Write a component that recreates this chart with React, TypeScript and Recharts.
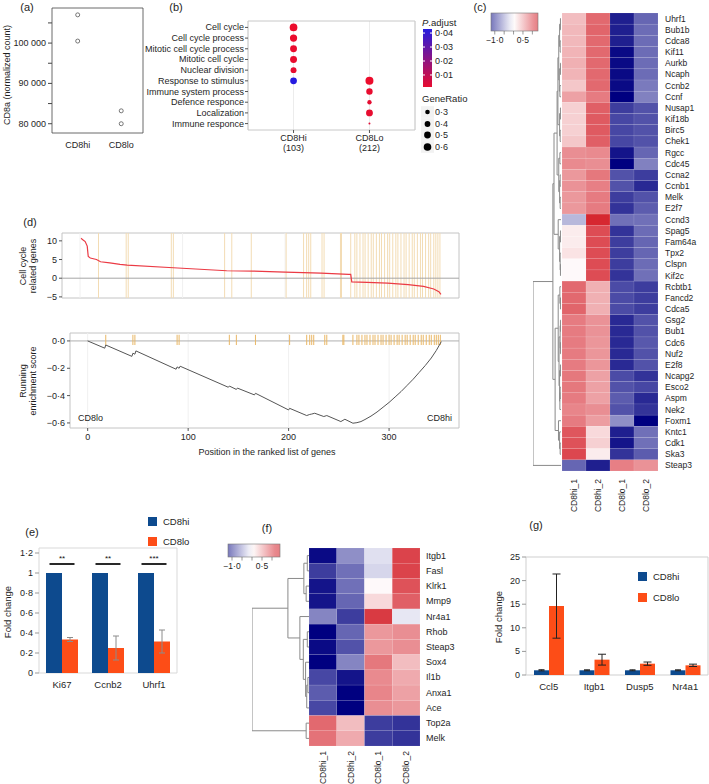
import React from 'react';
import {
  ScatterChart,
  Scatter,
  LineChart,
  Line,
  ComposedChart,
  Bar,
  ErrorBar,
  XAxis,
  YAxis,
  ZAxis,
  Cell,
  CartesianGrid,
  ReferenceLine,
  ReferenceArea,
} from 'recharts';

const FONT = '"Liberation Sans", Arial, Helvetica, sans-serif';
const TXT = '#1e1e1e';
const HI_BLUE = '#0d4a8e';
const LO_ORANGE = '#fd4d17';

// (a) CD8a normalized counts
const aGroups = ['CD8hi', 'CD8lo'];
const aHiCounts = [107000, 100500];
const aLoCounts = [83200, 80000];
const aTicks = [80000, 85000, 90000, 95000, 100000, 105000];
const aLabelled = [80000, 90000, 100000];

// (b) GO enrichment dot plot
const bTerms = [
  'Cell cycle',
  'Cell cycle process',
  'Mitotic cell cycle process',
  'Mitotic cell cycle',
  'Nuclear division',
  'Response to stimulus',
  'Immune system process',
  'Defence responce',
  'Localization',
  'Immune responce',
];
const bClusters = ['CD8Hi', 'CD8Lo'];
const bClusterSizes = [103, 212];
const bHiRatio = [0.64, 0.58, 0.54, 0.54, 0.43, 0.52]; // terms 0-5
const bHiPadj = [0.0005, 0.0007, 0.0009, 0.001, 0.0015, 0.043];
const bLoRatio = [0.68, 0.48, 0.29, 0.53, 0.16]; // terms 5-9
const bLoPadj = [0.0004, 0.0012, 0.002, 0.0015, 0.003];
const bPadjTicks = [0.01, 0.02, 0.03, 0.04];
const bRatioKeys = [0.3, 0.4, 0.5, 0.6];

// (c) cell cycle heatmap
const cCols = ['CD8hi_1', 'CD8hi_2', 'CD8lo_1', 'CD8lo_2'];
const cGenes = [
  'Uhrf1', 'Bub1b', 'Cdca8', 'Kif11', 'Aurkb', 'Ncaph', 'Ccnb2', 'Ccnf',
  'Nusap1', 'Kif18b', 'Birc5', 'Chek1', 'Rgcc', 'Cdc45', 'Ccna2', 'Ccnb1',
  'Melk', 'E2f7', 'Ccnd3', 'Spag5', 'Fam64a', 'Tpx2', 'Clspn', 'Kif2c',
  'Rcbtb1', 'Fancd2', 'Cdca5', 'Gsg2', 'Bub1', 'Cdc6', 'Nuf2', 'E2f8',
  'Ncapg2', 'Esco2', 'Aspm', 'Nek2', 'Foxm1', 'Kntc1', 'Cdk1', 'Ska3', 'Steap3',
];
const cHi1 = [
  0.35, 0.38, 0.38, 0.4, 0.42, 0.4, 0.3, 0.5,
  0.25, 0.25, 0.25, 0.3, 0.6, 0.62, 0.55, 0.58,
  0.55, 0.55, -0.35, 0.1, 0.1, 0.15, 0.03, 0.03,
  0.8, 0.8, 0.82, 0.7, 0.7, 0.7, 0.7, 0.7,
  0.72, 0.72, 0.7, 0.65, 0.7, 0.9, 0.92, 0.98, -0.75,
];
const cHi2 = [
  0.8, 0.82, 0.8, 0.8, 0.8, 0.8, 0.8, 0.7,
  0.85, 0.88, 0.88, 0.85, 0.62, 0.6, 0.72, 0.68,
  0.7, 0.7, 1.15, 0.95, 0.95, 0.95, 0.95, 0.95,
  0.42, 0.42, 0.42, 0.58, 0.58, 0.56, 0.56, 0.56,
  0.5, 0.5, 0.5, 0.6, 0.52, 0.2, 0.25, 0.1, -1.1,
];
const cLo1 = [
  -1.1, -1.1, -1.1, -1.2, -1.2, -1.2, -1.2, -1.25,
  -0.95, -0.9, -0.9, -0.9, -1.15, -1.3, -0.85, -0.85,
  -0.95, -1.0, -0.7, -1.0, -0.95, -0.95, -0.95, -1.0,
  -0.88, -0.88, -0.88, -1.05, -1.05, -1.05, -1.05, -1.05,
  -0.88, -0.85, -0.8, -0.85, -0.55, -1.1, -1.15, -1.0, 0.68,
];
const cLo2 = [
  -0.75, -0.72, -0.72, -0.72, -0.72, -0.72, -0.65, -0.62,
  -0.85, -0.85, -0.85, -0.85, -0.75, -0.62, -0.95, -1.05,
  -0.85, -0.8, -0.7, -0.72, -0.75, -0.75, -0.72, -0.7,
  -0.95, -0.95, -0.95, -0.85, -0.85, -0.82, -0.85, -0.85,
  -1.0, -0.9, -1.05, -1.0, -1.35, -0.7, -0.7, -0.8, 0.58,
];
// dendrogram: leaf = row index, node = [left, right, height]
const cTree: any = [
  [
    [
      [
        [
          [[[0, 1, 0.02], [2, 3, 0.03], 0.05], [[4, 5, 0.02], [6, 7, 0.04], 0.06], 0.08],
          [[8, 9, 0.02], [10, 11, 0.03], 0.05],
          0.11,
        ],
        [[12, 13, 0.04], [[14, 15, 0.03], [16, 17, 0.03], 0.05], 0.08],
        0.14,
      ],
      [18, [[19, 20, 0.02], [21, [22, 23, 0.02], 0.03], 0.05], 0.1],
      0.25,
    ],
    [
      [
        [24, [25, 26, 0.02], 0.04],
        [[[27, 28, 0.02], [29, 30, 0.02], 0.03], [[31, 32, 0.02], [[33, 34, 0.03], 35, 0.04], 0.05], 0.07],
        0.1,
      ],
      [36, [37, [38, 39, 0.03], 0.05], 0.09],
      0.21,
    ],
    0.29,
  ],
  40,
  1.0,
];

// (d) ranked list / running enrichment
const dRankIdx = [1, 3, 5, 7, 8, 10, 16, 20, 29, 39, 46, 91, 143, 169, 200, 235, 262, 264, 265, 280, 300, 320, 335, 345, 350, 352];
const dRankVal = [10.7, 10.2, 9.8, 8.6, 5.8, 5.4, 5.0, 4.4, 4.1, 3.7, 3.5, 2.8, 2.0, 1.9, 1.6, 1.35, 1.0, 1.0, -1.0, -1.1, -1.3, -1.7, -2.2, -2.9, -3.6, -4.3];
const dEsIdx = [0, 17, 18, 44, 45, 47, 48, 88, 89, 91, 92, 140, 141, 148, 149, 166, 167, 200, 201, 218, 221, 223, 226, 235, 238, 252, 256, 264, 268, 272, 276, 282, 288, 294, 300, 306, 312, 318, 324, 330, 336, 342, 347, 352];
const dEsVal = [0, -0.053, -0.03, -0.113, -0.09, -0.097, -0.073, -0.207, -0.19, -0.2, -0.185, -0.339, -0.33, -0.355, -0.345, -0.395, -0.383, -0.505, -0.493, -0.546, -0.538, -0.535, -0.529, -0.553, -0.546, -0.59, -0.573, -0.602, -0.598, -0.59, -0.575, -0.55, -0.52, -0.485, -0.45, -0.41, -0.37, -0.325, -0.28, -0.23, -0.18, -0.125, -0.07, -0.005];
const dHits = [
  18, 45, 47, 89, 91, 141, 148, 167, 201, 218, 221, 223, 225, 236, 238, 254, 255,
  264, 268, 270, 273, 276, 278, 281, 284, 286, 289, 292, 294, 297, 300, 302, 305,
  308, 310, 313, 316, 318, 321, 324, 326, 329, 332, 334, 337, 340, 342, 345, 347, 349, 351,
];
const dXTicks = [0, 100, 200, 300];

// (e) qPCR, cell cycle genes
const eGenes = ['Ki67', 'Ccnb2', 'Uhrf1'];
const eHi = [1, 1, 1];
const eLo = [0.335, 0.25, 0.315];
const eLoErr = [0.02, 0.12, 0.115];
const eStars = ['**', '**', '***'];
const eTicks = [0, 0.2, 0.4, 0.6, 0.8, 1, 1.2];

// (f) heatmap
const fGenes = ['Itgb1', 'Fasl', 'Klrk1', 'Mmp9', 'Nr4a1', 'Rhob', 'Steap3', 'Sox4', 'Il1b', 'Anxa1', 'Ace', 'Top2a', 'Melk'];
const fHi1 = [-1.2, -0.95, -1.15, -1.15, -0.6, -1.3, -1.2, -1.35, -0.9, -0.8, -0.9, 0.8, 0.75];
const fHi2 = [-0.55, -0.7, -0.7, -0.75, -0.95, -0.75, -0.85, -0.6, -1.15, -1.3, -1.25, 0.35, 0.45];
const fLo1 = [-0.15, -0.2, 0.03, 0.2, 1.05, 0.55, 0.55, 0.72, 0.62, 0.65, 0.6, -0.95, -0.95];
const fLo2 = [1.0, 1.0, 0.92, 0.85, -0.12, 0.6, 0.6, 0.35, 0.45, 0.5, 0.55, -1.0, -1.0];
const fTree: any = [
  [
    [[0, 1, 0.03], [2, 3, 0.05], 0.09],
    [4, [[5, 6, 0.03], [7, [[8, 9, 0.02], 10, 0.04], 0.06], 0.1], 0.16],
    0.37,
  ],
  [11, 12, 0.05],
  1.0,
];

// (g) qPCR, immune genes
const gGenes = ['Ccl5', 'Itgb1', 'Dusp5', 'Nr4a1'];
const gHi = [1, 1, 1, 1];
const gHiErr = [0.12, 0.1, 0.1, 0.1];
const gLo = [14.6, 3.25, 2.4, 2.05];
const gLoErr = [6.8, 1.15, 0.35, 0.25];
const gTicks = [0, 5, 10, 15, 20, 25];

const seriesNames = ['CD8hi', 'CD8lo'];

// ---------- helpers ----------
const seq = (n: number) => Array.from({ length: n }, (_, i) => i);
const dotNum = (v: number, digits: number) =>
  (v < 0 ? '\u2212' : '') + Math.abs(v).toFixed(digits).replace('.', '\u00b7');
const mix = (a: number[], b: number[], t: number) =>
  `rgb(${a.map((v, i) => Math.round(v + (b[i] - v) * t)).join(',')})`;
const WHITE = [255, 255, 255];
const heatColor = (v: number) =>
  v >= 0 ? mix(WHITE, [210, 20, 30], Math.min(v / 1.25, 1)) : mix(WHITE, [0, 0, 128], Math.min(-v / 1.25, 1));
const paleHeat = (v: number) =>
  v >= 0 ? mix(WHITE, [210, 20, 30], Math.min(v / 1.25, 1) * 0.55) : mix(WHITE, [0, 0, 128], Math.min(-v / 1.25, 1) * 0.55);
const pColor = (p: number) => mix([238, 12, 42], [28, 28, 232], Math.min(p / 0.045, 1));
const bDotArea = (r: number) => 2.2 + (r - 0.15) * 96;

// single-line tick text (recharts would otherwise wrap long labels)
const yTick = (fmt: (v: any) => string, size: number, anchor = 'end') => (p: any) => (
  <text x={p.x} y={p.y} textAnchor={anchor} dominantBaseline="central" fontSize={size} fill={TXT}>
    {fmt(p.payload.value)}
  </text>
);
const xTick = (fmt: (v: any) => string, size: number) => (p: any) => (
  <text x={p.x} y={p.y} dy="0.75em" textAnchor="middle" fontSize={size} fill={TXT}>
    {fmt(p.payload.value)}
  </text>
);

function Label({ x, y, children, size = 9, align = 'center', rotate = false }: any) {
  const tx = align === 'left' ? '0' : align === 'right' ? '-100%' : '-50%';
  return (
    <div
      style={{
        position: 'absolute',
        left: x,
        top: y,
        fontSize: size,
        lineHeight: 1.15,
        whiteSpace: 'pre',
        textAlign: 'center',
        transform: `translate(${tx}, -50%)${rotate ? ' rotate(-90deg)' : ''}`,
      }}
    >
      {children}
    </div>
  );
}

function SwatchLegend({ x, y, gap }: any) {
  const cols = [HI_BLUE, LO_ORANGE];
  return (
    <>
      {seriesNames.map((name, i) => (
        <div
          key={name}
          style={{ position: 'absolute', left: x, top: y + i * gap - 6, height: 12, display: 'flex', alignItems: 'center', fontSize: 9.5 }}
        >
          <span style={{ width: 9, height: 9, background: cols[i], display: 'inline-block', marginRight: 6 }} />
          {name}
        </div>
      ))}
    </>
  );
}

const rotTick = (names: string[], size: number) => (p: any) => (
  <text
    x={p.x}
    y={p.y}
    transform={`rotate(-90 ${p.x} ${p.y})`}
    textAnchor="end"
    dominantBaseline="central"
    fontSize={size}
    fill={TXT}
  >
    {names[p.payload.value]}
  </text>
);

const heatShape = (w: number, h: number) => (p: any) => (
  <rect
    x={p.cx - w / 2}
    y={p.cy - h / 2}
    width={w}
    height={h}
    fill={heatColor(p.payload.v)}
    stroke="rgba(255,255,255,0.18)"
    strokeWidth={0.5}
  />
);

function dendroSegments(tree: any) {
  const segs: any[] = [];
  const walk = (n: any): { y: number; h: number } => {
    if (typeof n === 'number') return { y: n, h: 0 };
    const a = walk(n[0]);
    const b = walk(n[1]);
    const h = n[2];
    segs.push([{ x: a.h, y: a.y }, { x: h, y: a.y }]);
    segs.push([{ x: b.h, y: b.y }, { x: h, y: b.y }]);
    segs.push([{ x: h, y: a.y }, { x: h, y: b.y }]);
    return { y: (a.y + b.y) / 2, h };
  };
  walk(tree);
  return segs;
}

function Dendrogram({ tree, leaves, left, top, width, height }: any) {
  const segs = dendroSegments(tree);
  const leafPts = seq(leaves).map((i) => ({ h: 0, row: i }));
  return (
    <div style={{ position: 'absolute', left, top }}>
      <ScatterChart width={width} height={height} margin={{ top: 0, right: 0, bottom: 0, left: 0 }}>
        <XAxis type="number" dataKey="h" domain={[0, 1]} reversed hide allowDataOverflow />
        <YAxis type="number" dataKey="row" domain={[-0.5, leaves - 0.5]} reversed hide allowDataOverflow />
        <Scatter data={leafPts} shape={() => <g />} isAnimationActive={false} />
        {segs.map((s, i) => (
          <ReferenceLine key={i} segment={s} stroke="#8a8a8a" strokeWidth={1} ifOverflow="visible" />
        ))}
      </ScatterChart>
    </div>
  );
}

function ColorKey({ left, top, width, height, domain, ticks, labels }: any) {
  const [lo, hi] = domain;
  const px = (v: number) => ((v - lo) / (hi - lo)) * width;
  const id = `key${left}`;
  const stops = seq(11).map((i) => lo + ((hi - lo) * i) / 10);
  return (
    <svg style={{ position: 'absolute', left, top, overflow: 'visible' }} width={width} height={height + 20}>
      <defs>
        <linearGradient id={id} x1="0" x2="1" y1="0" y2="0">
          {stops.map((v, i) => (
            <stop key={i} offset={i / 10} stopColor={paleHeat(v)} />
          ))}
        </linearGradient>
      </defs>
      <rect x={0} y={0} width={width} height={height} fill={`url(#${id})`} stroke="#777" strokeWidth={0.6} />
      {ticks.map((t: number) => (
        <line key={t} x1={px(t)} x2={px(t)} y1={height} y2={height + 3.5} stroke="#555" strokeWidth={0.6} />
      ))}
      {labels.map((t: number) => (
        <text key={t} x={px(t)} y={height + 12} textAnchor="middle" fontSize={8.5} fill={TXT}>
          {dotNum(t, 1)}
        </text>
      ))}
    </svg>
  );
}

// ---------- panels ----------
function PanelA() {
  const pts = [
    ...aHiCounts.map((c) => ({ g: 1, count: c })),
    ...aLoCounts.map((c) => ({ g: 2, count: c })),
  ];
  const fmtCount = (v: number) =>
    aLabelled.includes(v) ? String(v).replace(/\B(?=(\d{3})+(?!\d))/g, ' ') : '';
  return (
    <div style={{ position: 'absolute', left: 0, top: 0 }}>
      <ScatterChart width={150} height={155} margin={{ top: 8, right: 7, bottom: 0, left: 16 }}>
        <XAxis
          type="number"
          dataKey="g"
          domain={[0.41, 2.5]}
          allowDataOverflow
          ticks={[1, 2]}
          interval={0}
          axisLine={false}
          tickLine={false}
          height={22}
          tick={xTick((v: number) => aGroups[v - 1], 9)}
        />
        <YAxis
          type="number"
          dataKey="count"
          domain={[77700, 108700]}
          allowDataOverflow
          ticks={aTicks}
          interval={0}
          width={36}
          axisLine={false}
          tickSize={4}
          tickMargin={2}
          tickLine={{ stroke: '#444' }}
          tick={yTick(fmtCount, 9)}
        />
        <ReferenceArea x1={0.41} x2={2.5} y1={77700} y2={108700} fill="none" stroke="#444" strokeWidth={0.8} ifOverflow="visible" />
        <Scatter
          data={pts}
          isAnimationActive={false}
          shape={(p: any) => <circle cx={p.cx} cy={p.cy} r={2} fill="none" stroke="#555" strokeWidth={0.8} />}
        />
      </ScatterChart>
    </div>
  );
}

function PanelB() {
  const pts = [
    ...bHiRatio.map((r, i) => ({ cl: 1, term: i, ratio: r, p: bHiPadj[i] })),
    ...bLoRatio.map((r, i) => ({ cl: 2, term: i + 5, ratio: r, p: bLoPadj[i] })),
  ];
  const bTick = (p: any) => {
    const i = p.payload.value - 1;
    return (
      <text x={p.x} y={p.y} textAnchor="middle" fontSize={9} fill={TXT}>
        <tspan x={p.x} dy={6}>{bClusters[i]}</tspan>
        <tspan x={p.x} dy={10}>({bClusterSizes[i]})</tspan>
      </text>
    );
  };
  return (
    <div style={{ position: 'absolute', left: 130, top: 0 }}>
      <ScatterChart width={300} height={160} margin={{ top: 21, right: 15, bottom: 0, left: 0 }}>
        <CartesianGrid horizontal={false} stroke="#ececec" />
        <XAxis
          type="number"
          dataKey="cl"
          domain={[0.4, 2.6]}
          allowDataOverflow
          ticks={[1, 2]}
          interval={0}
          height={30}
          axisLine={false}
          tickSize={3}
          tickLine={{ stroke: '#555' }}
          tick={bTick}
        />
        <YAxis
          type="number"
          dataKey="term"
          domain={[-0.6, 9.6]}
          allowDataOverflow
          reversed
          ticks={seq(10)}
          interval={0}
          width={118}
          axisLine={false}
          tickSize={3}
          tickMargin={1}
          tickLine={{ stroke: '#555' }}
          tick={yTick((v: number) => bTerms[v], 9)}
        />
        <ZAxis type="number" dataKey="ratio" domain={[0.15, 0.65]} range={[bDotArea(0.15), bDotArea(0.65)]} />
        <ReferenceArea x1={0.4} x2={2.6} y1={-0.6} y2={9.6} fill="none" stroke="#c8c8c8" ifOverflow="visible" />
        <Scatter data={pts} isAnimationActive={false}>
          {pts.map((d, i) => (
            <Cell key={i} fill={pColor(d.p)} />
          ))}
        </Scatter>
      </ScatterChart>
    </div>
  );
}

function PanelBLegend() {
  const top = 15;
  const barH = 58;
  const pTop = 0.0429;
  const pBot = 0.0014;
  const yOf = (p: number) => top + ((pTop - p) / (pTop - pBot)) * barH;
  const stops = seq(9).map((i) => pTop - ((pTop - pBot) * i) / 8);
  const keyY = [98, 110, 121, 133];
  return (
    <svg style={{ position: 'absolute', left: 412, top: 14 }} width={90} height={145}>
      <defs>
        <linearGradient id="padj" x1="0" x2="0" y1="0" y2="1">
          {stops.map((p, i) => (
            <stop key={i} offset={i / 8} stopColor={pColor(p)} />
          ))}
        </linearGradient>
      </defs>
      <text x={10} y={12} fontSize={9.5} fill={TXT}>
        <tspan fontStyle="italic">P</tspan>.adjust
      </text>
      <rect x={11} y={top} width={9} height={barH} fill="url(#padj)" />
      {bPadjTicks.map((p) => (
        <g key={p}>
          <line x1={11} x2={13} y1={yOf(p)} y2={yOf(p)} stroke="#fff" />
          <line x1={18} x2={20} y1={yOf(p)} y2={yOf(p)} stroke="#fff" />
          <text x={23} y={yOf(p) + 3} fontSize={9} fill={TXT}>
            {dotNum(p, 2)}
          </text>
        </g>
      ))}
      <text x={10} y={88} fontSize={9.5} fill={TXT}>
        GeneRatio
      </text>
      {bRatioKeys.map((r, i) => (
        <g key={r}>
          <rect x={9} y={keyY[i] - 5.8} width={13} height={11.6} fill="#f2f2f2" />
          <circle cx={15.5} cy={keyY[i]} r={Math.sqrt(bDotArea(r) / Math.PI)} fill="#000" />
          <text x={23} y={keyY[i] + 3} fontSize={9} fill={TXT}>
            {dotNum(r, 1)}
          </text>
        </g>
      ))}
    </svg>
  );
}

function PanelC() {
  const cells = [cHi1, cHi2, cLo1, cLo2].flatMap((vals, c) => vals.map((v, r) => ({ col: c, row: r, v })));
  const n = cGenes.length;
  return (
    <>
      <div style={{ position: 'absolute', left: 558, top: 0 }}>
        <ScatterChart width={151} height={528} margin={{ top: 13, right: 0, bottom: 0, left: 4 }}>
          <XAxis
            type="number"
            dataKey="col"
            domain={[-0.5, 3.5]}
            allowDataOverflow
            ticks={[0, 1, 2, 3]}
            interval={0}
            height={57}
            axisLine={false}
            tickLine={false}
            tickSize={6}
            tickMargin={2}
            tick={rotTick(cCols, 8.5)}
          />
          <YAxis
            type="number"
            dataKey="row"
            orientation="right"
            domain={[-0.5, n - 0.5]}
            allowDataOverflow
            reversed
            ticks={seq(n)}
            interval={0}
            width={51}
            axisLine={false}
            tickLine={false}
            tickSize={6}
            tickMargin={1}
            tick={yTick((v: number) => cGenes[v], 8.5, 'start')}
          />
          <Scatter data={cells} shape={heatShape(24, 458 / 41)} isAnimationActive={false} />
        </ScatterChart>
      </div>
      <Dendrogram tree={cTree} leaves={n} left={533} top={13} width={28} height={458} />
      <ColorKey left={491} top={13} width={47} height={18} domain={[-1.2, 1.3]} ticks={[-1, -0.5, 0, 0.5, 1]} labels={[-1, 0.5]} />
    </>
  );
}

function PanelD() {
  const rankData = dRankIdx.map((i, k) => ({ i, v: dRankVal[k] }));
  const esData = dEsIdx.map((i, k) => ({ i, es: dEsVal[k] }));
  const xDom = [-17.6, 369.6];
  return (
    <>
      <div style={{ position: 'absolute', left: 0, top: 225 }}>
        <LineChart width={470} height={80} data={rankData} margin={{ top: 8, right: 11, bottom: 7, left: 0 }}>
          <XAxis type="number" dataKey="i" domain={xDom} allowDataOverflow hide />
          <YAxis
            type="number"
            domain={[-5.3, 12.1]}
            allowDataOverflow
            ticks={[-5, 0, 5, 10]}
            interval={0}
            width={62}
            axisLine={false}
            tickSize={3}
            tickMargin={2}
            tickLine={{ stroke: '#555' }}
            tick={yTick((v: number) => dotNum(v, 0), 9)}
          />
          {dXTicks.map((g) => (
            <ReferenceLine key={`g${g}`} x={g} stroke="#f0f0f0" />
          ))}
          {dHits.map((h) => (
            <ReferenceLine key={h} x={h} stroke="#f3dcb4" strokeWidth={1} />
          ))}
          <ReferenceLine y={0} stroke="#a5a5a5" />
          <ReferenceArea x1={xDom[0]} x2={xDom[1]} y1={-5.3} y2={12.1} fill="none" stroke="#c4c4c4" ifOverflow="visible" />
          <Line dataKey="v" type="linear" stroke="#eb3a44" strokeWidth={1.2} dot={false} isAnimationActive={false} />
        </LineChart>
      </div>
      <div style={{ position: 'absolute', left: 0, top: 325 }}>
        <LineChart width={470} height={140} data={esData} margin={{ top: 8, right: 11, bottom: 17, left: 0 }}>
          <XAxis
            type="number"
            dataKey="i"
            domain={xDom}
            allowDataOverflow
            ticks={dXTicks}
            interval={0}
            height={20}
            axisLine={false}
            tickSize={3}
            tickMargin={2}
            tickLine={{ stroke: '#555' }}
            tick={xTick((v: number) => String(v), 9)}
          />
          <YAxis
            type="number"
            domain={[-0.637, 0.058]}
            allowDataOverflow
            ticks={[-0.6, -0.4, -0.2, 0]}
            interval={0}
            width={70}
            axisLine={false}
            tickSize={3}
            tickMargin={2}
            tickLine={{ stroke: '#555' }}
            tick={yTick((v: number) => dotNum(v, 1), 9)}
          />
          {dXTicks.map((g) => (
            <ReferenceLine key={`g${g}`} x={g} stroke="#f0f0f0" />
          ))}
          <ReferenceLine y={0} stroke="#b0b0b0" />
          {dHits.map((h) => (
            <ReferenceLine key={h} segment={[{ x: h, y: 0.045 }, { x: h, y: -0.03 }]} stroke="#e9b766" strokeWidth={1} ifOverflow="visible" />
          ))}
          <ReferenceArea x1={xDom[0]} x2={xDom[1]} y1={-0.637} y2={0.058} fill="none" stroke="#c4c4c4" ifOverflow="visible" />
          <Line dataKey="es" type="linear" stroke="#555" strokeWidth={1} dot={false} isAnimationActive={false} />
        </LineChart>
      </div>
    </>
  );
}

const SigMark = (p: any) => {
  if (p.cx == null) return <g />;
  return (
    <g>
      <line x1={p.cx - 12.5} x2={p.cx + 12.5} y1={p.cy} y2={p.cy} stroke="#111" strokeWidth={1.8} />
      <text x={p.cx} y={p.cy - 3.5} textAnchor="middle" fontSize={8} fill="#111">
        {p.payload.stars}
      </text>
    </g>
  );
};

function PanelE() {
  const data = eGenes.map((g, i) => ({ gene: g, hi: eHi[i], lo: eLo[i], loErr: eLoErr[i], sig: 1.09, stars: eStars[i] }));
  return (
    <div style={{ position: 'absolute', left: 0, top: 540 }}>
      <ComposedChart width={185} height={170} data={data} margin={{ top: 8, right: 8, bottom: 10, left: 0 }} barCategoryGap={7} barGap={0}>
        <XAxis dataKey="gene" height={27} interval={0} axisLine={false} tickLine={false} tickSize={0} tickMargin={8} tick={xTick((v: string) => v, 9.5)} />
        <YAxis
          type="number"
          domain={[0, 1.25]}
          allowDataOverflow
          ticks={eTicks}
          interval={0}
          width={39}
          axisLine={false}
          tickSize={4}
          tickMargin={2}
          tickLine={{ stroke: '#999' }}
          tick={yTick((v: number) => (Number.isInteger(v) ? String(v) : dotNum(v, 1)), 9)}
        />
        <ReferenceArea x1="Ki67" x2="Uhrf1" y1={0} y2={1.25} fill="none" stroke="#d9d9d9" ifOverflow="visible" />
        <Bar dataKey="hi" fill={HI_BLUE} isAnimationActive={false} />
        <Bar dataKey="lo" fill={LO_ORANGE} isAnimationActive={false}>
          <ErrorBar dataKey="loErr" direction="y" width={3} stroke="#8c8c8c" strokeWidth={1} />
        </Bar>
        <Scatter dataKey="sig" shape={SigMark} isAnimationActive={false} />
      </ComposedChart>
    </div>
  );
}

function PanelF() {
  const cells = [fHi1, fHi2, fLo1, fLo2].flatMap((vals, c) => vals.map((v, r) => ({ col: c, row: r, v })));
  const n = fGenes.length;
  return (
    <>
      <div style={{ position: 'absolute', left: 305, top: 540 }}>
        <ScatterChart width={165} height={244} margin={{ top: 8, right: 0, bottom: 0, left: 4 }}>
          <XAxis
            type="number"
            dataKey="col"
            domain={[-0.5, 3.5]}
            allowDataOverflow
            ticks={[0, 1, 2, 3]}
            interval={0}
            height={38}
            axisLine={false}
            tickLine={false}
            tickSize={3}
            tickMargin={2}
            tick={rotTick(cCols, 8.5)}
          />
          <YAxis
            type="number"
            dataKey="row"
            orientation="right"
            domain={[-0.5, n - 0.5]}
            allowDataOverflow
            reversed
            ticks={seq(n)}
            interval={0}
            width={50}
            axisLine={false}
            tickLine={false}
            tickSize={5}
            tickMargin={1}
            tick={yTick((v: number) => fGenes[v], 9, 'start')}
          />
          <Scatter data={cells} shape={heatShape(111 / 4, 198 / 13)} isAnimationActive={false} />
        </ScatterChart>
      </div>
      <Dendrogram tree={fTree} leaves={n} left={252} top={548} width={57} height={198} />
      <ColorKey left={228} top={544} width={52} height={13} domain={[-1.2, 1.4]} ticks={[-1, -0.5, 0, 0.5, 1]} labels={[-1, 0.5]} />
    </>
  );
}

function PanelG() {
  const data = gGenes.map((g, i) => ({ gene: g, hi: gHi[i], hiErr: gHiErr[i], lo: gLo[i], loErr: gLoErr[i] }));
  return (
    <div style={{ position: 'absolute', left: 480, top: 545 }}>
      <ComposedChart width={229} height={170} data={data} margin={{ top: 12, right: 1, bottom: 0, left: 0 }} barGap={0}>
        <XAxis dataKey="gene" height={40} interval={0} axisLine={false} tickLine={false} tickSize={0} tickMargin={8} tick={xTick((v: string) => v, 9.5)} />
        <YAxis
          type="number"
          domain={[0, 25]}
          allowDataOverflow
          ticks={gTicks}
          interval={0}
          width={46}
          axisLine={false}
          tickSize={4}
          tickMargin={2}
          tickLine={{ stroke: '#999' }}
          tick={yTick((v: number) => String(v), 9)}
        />
        <ReferenceArea x1="Ccl5" x2="Nr4a1" y1={0} y2={25} fill="none" stroke="#cfcfcf" ifOverflow="visible" />
        <Bar dataKey="hi" fill={HI_BLUE} barSize={15} isAnimationActive={false}>
          <ErrorBar dataKey="hiErr" direction="y" width={3} stroke="#222" strokeWidth={1} />
        </Bar>
        <Bar dataKey="lo" fill={LO_ORANGE} barSize={15} isAnimationActive={false}>
          <ErrorBar dataKey="loErr" direction="y" width={4} stroke="#222" strokeWidth={1} />
        </Bar>
      </ComposedChart>
    </div>
  );
}

export default function App() {
  return (
    <div
      style={{
        position: 'absolute',
        left: 0,
        top: 0,
        width: 709,
        height: 784,
        overflow: 'hidden',
        background: '#fff',
        fontFamily: FONT,
        color: TXT,
      }}
    >
      <PanelA />
      <PanelB />
      <PanelBLegend />
      <PanelC />
      <PanelD />
      <PanelE />
      <PanelF />
      <PanelG />

      <Label x={27} y={7} size={11}>(a)</Label>
      <Label x={176} y={7} size={11}>(b)</Label>
      <Label x={480} y={7} size={11}>(c)</Label>
      <Label x={30} y={222} size={11}>(d)</Label>
      <Label x={32} y={532} size={11}>(e)</Label>
      <Label x={267} y={528} size={11}>(f)</Label>
      <Label x={536} y={525} size={11}>(g)</Label>

      <Label x={7} y={75} rotate>CD8a (normalized count)</Label>
      <Label x={28} y={266} rotate>{'Cell cycle\nrelated genes'}</Label>
      <Label x={28} y={381} rotate>{'Running\nenrichment score'}</Label>
      <Label x={78} y={418} align="left">CD8lo</Label>
      <Label x={452} y={418} align="right">CD8hi</Label>
      <Label x={267} y={452}>Position in the ranked list of genes</Label>

      <Label x={8} y={612} size={9.5} rotate>Fold change</Label>
      <SwatchLegend x={148} y={521} gap={20} />

      <Label x={499} y={617} size={9.5} rotate>Fold change</Label>
      <SwatchLegend x={638} y={576} gap={21} />
    </div>
  );
}
